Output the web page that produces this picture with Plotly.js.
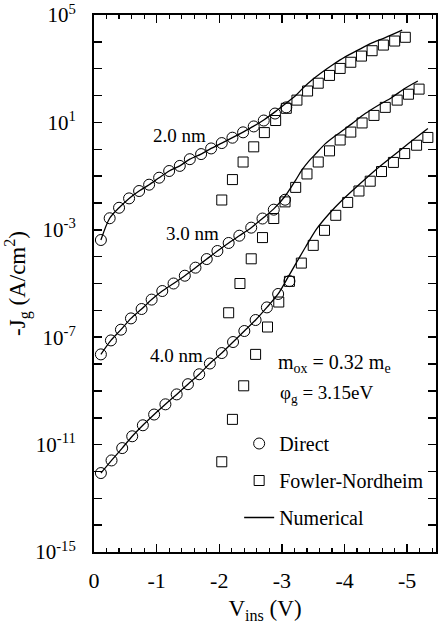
<!DOCTYPE html>
<html><head><meta charset="utf-8">
<script src="https://cdn.plot.ly/plotly-3.0.1.min.js"></script>
<style>html,body{margin:0;padding:0;background:#fff;overflow:hidden}</style>
</head><body><div id="chart" style="width:438px;height:624px"></div>
<script>
// ---- data (V_ins in volts, log10 of -J_g in A/cm^2) ----
const vDirect20 = [-0.11,-0.25,-0.40,-0.56,-0.72,-0.88,-1.04,-1.20,-1.37,-1.53,-1.71,-1.87,-2.04,-2.21,-2.38,-2.55,-2.71,-2.89,-3.07];
const logDirect20 = [-3.38,-2.57,-2.18,-1.83,-1.555,-1.32,-1.06,-0.81,-0.62,-0.37,-0.18,0.03,0.23,0.43,0.63,0.85,1.07,1.33,1.56];
const vDirect30 = [-0.11,-0.27,-0.43,-0.59,-0.76,-0.92,-1.09,-1.27,-1.45,-1.62,-1.80,-1.97,-2.15,-2.32,-2.51,-2.69,-2.87,-3.05];
const logDirect30 = [-7.64,-7.12,-6.72,-6.30,-5.95,-5.60,-5.28,-5.00,-4.71,-4.41,-4.09,-3.79,-3.49,-3.22,-2.92,-2.58,-2.25,-1.88];
const vDirect40 = [-0.11,-0.28,-0.45,-0.61,-0.78,-0.96,-1.14,-1.32,-1.50,-1.68,-1.85,-2.04,-2.22,-2.40,-2.58,-2.76,-2.94,-3.12];
const logDirect40 = [-12.06,-11.59,-11.13,-10.69,-10.28,-9.88,-9.50,-9.13,-8.75,-8.38,-7.98,-7.59,-7.18,-6.77,-6.36,-5.89,-5.39,-4.91];

const vFN20 = [-2.04,-2.21,-2.38,-2.55,-2.72,-2.90,-3.07,-3.24,-3.41,-3.58,-3.76,-3.93,-4.10,-4.27,-4.44,-4.62,-4.80,-4.97];
const logFN20 = [-1.89,-1.13,-0.475,0.09,0.62,1.07,1.525,1.83,2.17,2.46,2.75,3.01,3.24,3.47,3.67,3.88,4.03,4.17];
const vFN30 = [-2.15,-2.33,-2.51,-2.69,-2.87,-3.05,-3.22,-3.40,-3.58,-3.76,-3.93,-4.10,-4.28,-4.47,-4.65,-4.84,-5.02,-5.19];
const logFN30 = [-6.09,-5.00,-4.08,-3.29,-2.58,-1.96,-1.42,-0.92,-0.475,-0.06,0.345,0.64,0.98,1.26,1.56,1.83,2.05,2.24];
const vFN40 = [-2.04,-2.21,-2.39,-2.58,-2.77,-2.95,-3.12,-3.31,-3.50,-3.68,-3.86,-4.05,-4.23,-4.41,-4.59,-4.78,-4.96,-5.15,-5.33];
const logFN40 = [-11.64,-10.06,-8.81,-7.64,-6.62,-5.69,-4.92,-4.24,-3.58,-3.02,-2.46,-1.98,-1.555,-1.19,-0.83,-0.49,-0.16,0.15,0.44];

const vNum20 = [-0.11,-0.25,-0.40,-0.56,-0.72,-0.88,-1.04,-1.20,-1.37,-1.53,-1.71,-1.87,-2.04,-2.21,-2.38,-2.55,-2.71,-2.90,-3.07,-3.22,-3.35,-3.48,-3.64,-3.80,-4.01,-4.22,-4.43,-4.65,-4.92];
const logNum20 = [-3.38,-2.57,-2.18,-1.83,-1.555,-1.32,-1.06,-0.81,-0.62,-0.37,-0.18,0.03,0.23,0.43,0.64,0.86,1.09,1.41,1.72,2.00,2.31,2.58,2.87,3.13,3.44,3.70,3.95,4.16,4.44];
const vNum30 = [-0.11,-0.27,-0.43,-0.59,-0.76,-0.92,-1.09,-1.27,-1.45,-1.62,-1.80,-1.97,-2.15,-2.32,-2.51,-2.69,-2.87,-3.05,-3.22,-3.32,-3.43,-3.54,-3.69,-3.90,-4.12,-4.33,-4.54,-4.75,-4.96,-5.17];
const logNum30 = [-7.64,-7.12,-6.72,-6.30,-5.95,-5.60,-5.28,-5.00,-4.71,-4.41,-4.09,-3.79,-3.49,-3.22,-2.92,-2.58,-2.22,-1.75,-1.15,-0.77,-0.44,-0.17,0.20,0.58,0.955,1.33,1.64,1.92,2.26,2.54];
const vNum40 = [-0.11,-0.28,-0.45,-0.61,-0.78,-0.96,-1.14,-1.32,-1.50,-1.68,-1.85,-2.04,-2.22,-2.40,-2.58,-2.76,-2.94,-3.08,-3.22,-3.38,-3.56,-3.75,-3.96,-4.22,-4.49,-4.75,-5.02,-5.33];
const logNum40 = [-12.06,-11.59,-11.13,-10.69,-10.28,-9.88,-9.50,-9.13,-8.75,-8.38,-7.98,-7.59,-7.18,-6.77,-6.36,-5.89,-5.39,-4.84,-4.27,-3.63,-2.95,-2.41,-1.90,-1.34,-0.78,-0.29,0.21,0.77];

const xTickVals = [0,-1,-2,-3,-4,-5];
const xTickText = ["0","-1","-2","-3","-4","-5"];
const yTickVals = [1e5,1e1,1e-3,1e-7,1e-11,1e-15];
const yTickText = ["10<sup>5</sup>","10<sup>1</sup>","10<sup>-3</sup>","10<sup>-7</sup>","10<sup>-11</sup>","10<sup>-15</sup>"];
const thicknessLabels = ["2.0 nm","3.0 nm","4.0 nm"];

// ---- build traces ----
const FONT = "Liberation Serif, Times New Roman, serif";
const toJ = a => a.map(v => Math.pow(10, v));
function circles(x, y, show) {
  return {x: x, y: toJ(y), type: 'scatter', mode: 'markers', name: 'Direct',
    legendgroup: 'direct', legendrank: 1, showlegend: show,
    marker: {symbol: 'circle-open', size: 11, color: '#000', line: {width: 1, color: '#000'}}};
}
function squares(x, y, show) {
  return {x: x, y: toJ(y), type: 'scatter', mode: 'markers', name: 'Fowler-Nordheim',
    legendgroup: 'fn', legendrank: 2, showlegend: show,
    marker: {symbol: 'square-open', size: 10, color: '#000', line: {width: 1, color: '#000'}}};
}
function numline(x, y, show) {
  return {x: x, y: toJ(y), type: 'scatter', mode: 'lines', name: 'Numerical',
    legendgroup: 'num', legendrank: 3, showlegend: show,
    line: {color: '#000', width: 1.3, shape: 'spline', smoothing: 0.8}};
}
const data = [
  numline(vNum20, logNum20, false), numline(vNum30, logNum30, false), numline(vNum40, logNum40, true),
  circles(vDirect20, logDirect20, true), circles(vDirect30, logDirect30, false), circles(vDirect40, logDirect40, false),
  squares(vFN20, logFN20, true), squares(vFN30, logFN30, false), squares(vFN40, logFN40, false)
];

const W = 438, H = 624, L = 94, R = 0, T = 15, B = 72;
const px = x => (x - L) / (W - L - R);
const py = y => (H - B - y) / (H - T - B);

const layout = {
  width: W, height: H,
  margin: {l: L, r: R, t: T, b: B, pad: 0},
  paper_bgcolor: '#fff', plot_bgcolor: '#fff',
  font: {family: FONT, color: '#000', size: 19},
  showlegend: true,
  legend: {x: px(240), y: py(424), xanchor: 'left', yanchor: 'top',
    bgcolor: 'rgba(0,0,0,0)', borderwidth: 0, traceorder: 'grouped', tracegroupgap: 8,
    font: {family: FONT, size: 20, color: '#000'}},
  xaxis: {
    range: [0, -5.46], autorange: false,
    tickmode: 'array', tickvals: xTickVals, ticktext: xTickText,
    ticks: 'inside', ticklen: 8, tickwidth: 1.5, tickcolor: '#000',
    showline: true, linewidth: 2, linecolor: '#000', mirror: 'allticks',
    showgrid: false, zeroline: false,
    minor: {tickmode: 'linear', tick0: 0, dtick: 0.2, ticks: 'inside', ticklen: 4, tickwidth: 1.2, tickcolor: '#000', showgrid: false},
    tickfont: {family: FONT, size: 22, color: '#000'},
    ticklabelstandoff: 8,
    title: {text: 'V<sub>ins</sub> (V)', font: {family: FONT, size: 23, color: '#000'}, standoff: 8}
  },
  yaxis: {
    type: 'log', range: [-15, 5], autorange: false,
    tickmode: 'array', tickvals: yTickVals, ticktext: yTickText,
    ticks: 'inside', ticklen: 8, tickwidth: 1.5, tickcolor: '#000',
    showline: true, linewidth: 2, linecolor: '#000', mirror: 'allticks',
    showgrid: false, zeroline: false, automargin: true,
    minor: {tickmode: 'linear', tick0: 0, dtick: 1, ticks: 'inside', ticklen: 8, tickwidth: 1.5, tickcolor: '#000', showgrid: false},
    tickfont: {family: FONT, size: 21, color: '#000'},
    ticklabelstandoff: 12,
    title: {text: '-J<sub>g</sub> (A/cm<sup>2</sup>)', font: {family: FONT, size: 23, color: '#000'}, standoff: 3}
  },
  annotations: [
    {x: -1.365, y: 0.52, xref: 'x', yref: 'y', text: thicknessLabels[0], showarrow: false, font: {size: 19}},
    {x: -1.57, y: -3.13, xref: 'x', yref: 'y', text: thicknessLabels[1], showarrow: false, font: {size: 19}},
    {x: -1.325, y: -7.67, xref: 'x', yref: 'y', text: thicknessLabels[2], showarrow: false, font: {size: 19}},
    {x: px(277), y: py(378), xref: 'paper', yref: 'paper', xanchor: 'left', text: 'm<sub>ox</sub> = 0.32 m<sub>e</sub>', showarrow: false, font: {size: 20}},
    {x: px(279), y: py(408), xref: 'paper', yref: 'paper', xanchor: 'left', text: 'φ<sub>g</sub> = 3.15eV', showarrow: false, font: {size: 19}}
  ]
};

Plotly.newPlot('chart', data, layout, {staticPlot: true, displayModeBar: false});
</script></body></html>
